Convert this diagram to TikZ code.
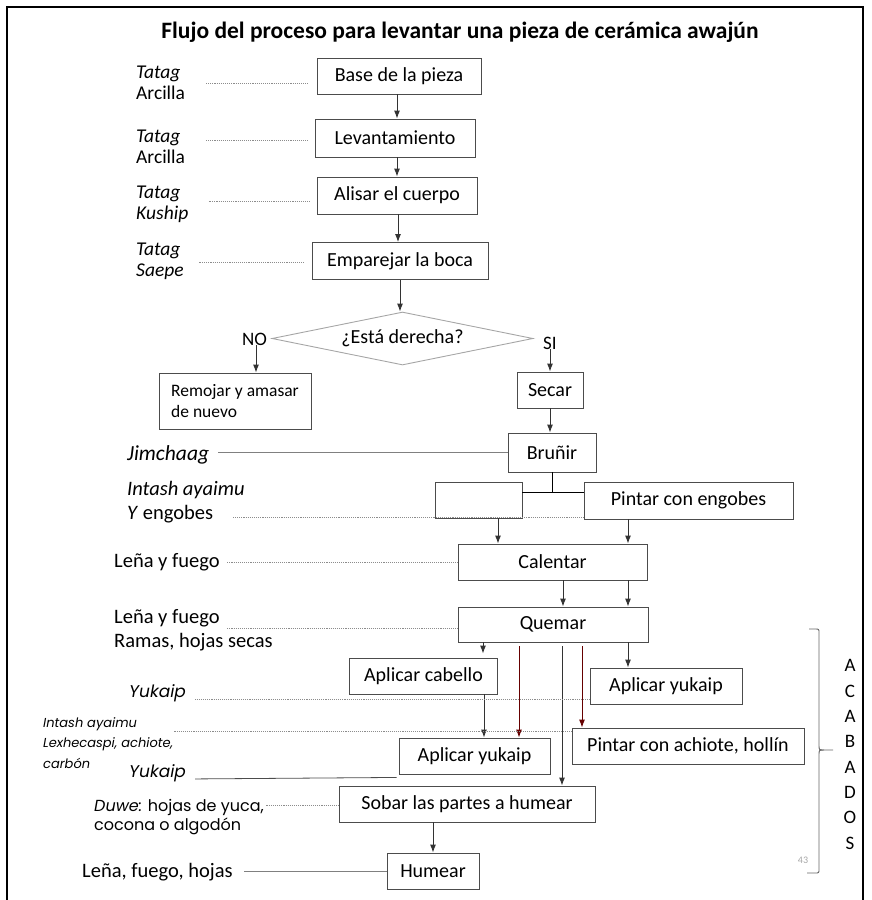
\documentclass[tikz,border=0pt]{standalone}
\usepackage{fontspec}
\setmainfont{Carlito}
\newfontfamily\gotica{Poppins}
\usetikzlibrary{shapes.geometric,arrows.meta}

\begin{document}
\begin{tikzpicture}[x=1pt,y=-1pt]
\tikzstyle{caja}=[draw=black!70,line width=0.9pt,inner sep=0pt,minimum height=36pt,font=\fontsize{20}{23}\selectfont]
\tikzstyle{nota}=[anchor=west,inner sep=0pt,align=left,font=\fontsize{19.5}{21}\selectfont]
\tikzstyle{notag}=[anchor=west,inner sep=0pt,align=left,font=\gotica\itshape\fontsize{17}{20}\selectfont]
\tikzstyle{guia}=[black!45,densely dotted,line width=0.9pt]
\tikzstyle{guiallena}=[black!50,line width=0.8pt]
\tikzstyle{flecha}=[-{Latex[length=8pt,width=6pt]},line width=0.9pt,black!80]
\tikzstyle{flecharoja}=[flecha,red!40!black]

\useasboundingbox (0,0) rectangle (871,900);
\draw[line width=1.4pt] (7,900) -- (7,7) -- (863,7) -- (863,900);

\node[font=\bfseries\fontsize{23.5}{26}\selectfont] (titulo) at (460,32) {Flujo del proceso para levantar una pieza de cerámica awajún};

% pasos
\node[caja,minimum width=164pt] (base) at (399,76) {Base de la pieza};
\node[caja,minimum width=160pt,minimum height=38pt] (lev) at (395,138) {Levantamiento};
\node[caja,minimum width=160pt,minimum height=37pt] (alisar) at (397,195.5) {Alisar el cuerpo};
\node[caja,minimum width=176pt,minimum height=37pt] (emp) at (400,261) {Emparejar la boca};
\node[diamond,aspect=4.9,draw=black!35,line width=0.9pt,inner sep=0pt,minimum width=261pt,minimum height=53pt,
  font=\fontsize{20}{23}\selectfont] (pregunta) at (402.5,338.5) {\raisebox{3pt}{¿Está derecha?}};
\node[font=\fontsize{19}{22}\selectfont,inner sep=0pt] (no) at (254.5,339) {NO};
\node[font=\fontsize{19}{22}\selectfont,inner sep=0pt] (si) at (550,343) {SI};
\node[caja,minimum width=152pt,minimum height=56pt,align=left,font=\fontsize{17.5}{21}\selectfont] (remojar) at (235,401) {Remojar y amasar\\de nuevo};
\node[caja,minimum width=66pt] (secar) at (550,390) {Secar};
\node[caja,minimum width=88pt,minimum height=39pt] (brunir) at (552,452.5) {Bruñir};
\node[caja,minimum width=87pt] (blanco) at (478.5,500) {};
\node[caja,minimum width=209pt,minimum height=37pt] (engobes) at (688.5,500.5) {Pintar con engobes};
\node[caja,minimum width=189pt] (calentar) at (552.5,562) {Calentar};
\node[caja,minimum width=190pt,minimum height=35pt] (quemar) at (553,624.5) {Quemar};
\node[caja,minimum width=148pt] (cabello) at (423.5,676) {Aplicar cabello};
\node[caja,minimum width=152pt] (yukaipA) at (666,686) {Aplicar yukaip};
\node[caja,minimum width=151pt] (yukaipB) at (474.5,756) {Aplicar yukaip};
\node[caja,minimum width=232pt] (achiote) at (688,746) {Pintar con achiote, hollín};
\node[caja,minimum width=256pt] (sobar) at (467,804) {Sobar las partes a humear};
\node[caja,minimum width=92pt] (humear) at (433,871) {Humear};
\coordinate (union) at (552,492);

% materiales
\node[nota] (t1) at (136,82.5) {\textit{Tatag}\\Arcilla};
\node[nota] (t2) at (136,147) {\textit{Tatag}\\Arcilla};
\node[nota] (t3) at (136,204) {\textit{Tatag}\\\textit{Kuship}};
\node[nota] (t4) at (136,261) {\textit{Tatag}\\\textit{Saepe}};
\node[nota,font=\fontsize{21.5}{23}\selectfont] (jim) at (127,455) {\textit{Jimchaag}};
\node[nota,font=\fontsize{20.5}{23}\selectfont] (intash) at (127,490) {\textit{Intash ayaimu}};
\node[nota,font=\fontsize{20.5}{23}\selectfont] (yeng) at (127,514) {\textit{Y} engobes};
\node[nota,font=\fontsize{20.5}{22}\selectfont] (lenaA) at (114,562) {Leña y fuego};
\node[nota,font=\fontsize{20.5}{22}\selectfont] (lenaB) at (114,618) {Leña y fuego};
\node[nota,font=\fontsize{20.5}{22}\selectfont] (ramas) at (114,642) {Ramas, hojas secas};
\node[notag] (yukA) at (129,693) {Yukaip};
\node[notag,font=\gotica\itshape\fontsize{13}{20.5}\selectfont] (lexhe) at (43,743) {Intash ayaimu\\Lexhecaspi, achiote,\\carbón};
\node[notag] (yukB) at (129,773) {Yukaip};
\node[notag,font=\gotica\fontsize{16}{18}\selectfont] (duwe) at (94,807) {\textit{Duwe:} hojas de yuca,};
\node[notag,font=\gotica\fontsize{16}{18}\selectfont] (cocona) at (94,826) {cocona o algodón};
\node[nota,font=\fontsize{20.5}{22}\selectfont] (lenaC) at (82,872) {Leña, fuego, hojas};

% flechas
\draw[flecha] (base.south -| 397,0) -- (lev.north -| 397,0);
\draw[flecha] (lev.south -| 397,0) -- (alisar.north -| 397,0);
\draw[flecha] (alisar.south -| 398,0) -- (emp.north -| 398,0);
\draw[flecha] (emp.south -| 400,0) -- (pregunta.north -| 400,0);
\draw[flecha] (no.south -| 256,0) -- (remojar.north -| 256,0);
\draw[flecha] (si.south) -- (secar.north);
\draw[flecha] (secar.south) -- (brunir.north -| secar.south);
\draw (brunir.south -| union) -- (union);
\draw (blanco.east |- union) -- (engobes.west |- union);
\draw[flecha] (blanco.south -| 498,0) -- (calentar.north -| 498,0);
\draw[flecha] (engobes.south -| 628,0) -- (calentar.north -| 628,0);
\draw[flecha] (calentar.south -| 563,0) -- (quemar.north -| 563,0);
\draw[flecha] (calentar.south -| 628,0) -- (quemar.north -| 628,0);
\draw[flecha,shorten >=4pt] (quemar.south -| 483,0) -- (cabello.north -| 483,0);
\draw[flecharoja,shorten <=4pt] (quemar.south -| 519,0) -- (yukaipB.north -| 519,0);
\draw[flecha,shorten <=4pt] (quemar.south -| 562,0) -- (sobar.north -| 562,0);
\draw[flecharoja,shorten <=4pt] (quemar.south -| 582,0) -- (achiote.north -| 582,0);
\draw[flecha] (quemar.south -| 628,0) -- (yukaipA.north -| 628,0);
\draw[flecha] (cabello.south -| 484,0) -- (yukaipB.north -| 484,0);
\draw[flecha] (sobar.south -| 433,0) -- (humear.north -| 433,0);

% lineas de materiales
\draw[guia,shorten <=9pt,shorten >=20pt] ([yshift=-7pt]base.west) -- ([yshift=-7pt]base.west -| t1.east);
\draw[guia,shorten <=7pt,shorten >=20pt] ([yshift=-2pt]lev.west) -- ([yshift=-2pt]lev.west -| t2.east);
\draw[guia,shorten <=7pt,shorten >=20pt] ([yshift=-6pt]alisar.west) -- ([yshift=-6pt]alisar.west -| t3.east);
\draw[guia,shorten <=8pt,shorten >=15pt] ([yshift=-1pt]emp.west) -- ([yshift=-1pt]emp.west -| t4.east);
\draw[guiallena,shorten >=9pt] (brunir.west) -- (brunir.west -| jim.east);
\draw[guia,shorten >=20pt] ([yshift=2pt]engobes.south west) -- ([yshift=2pt]engobes.south west -| yeng.east);
\draw[guia,shorten >=7pt] (calentar.west) -- (calentar.west -| lenaA.east);
\draw[guia,shorten >=7pt] ([yshift=-4pt]quemar.west) -- ([yshift=-4pt]quemar.west -| lenaB.east);
\draw[guia,shorten >=9pt] ([yshift=5pt]yukaipA.south west) -- ([yshift=5pt]yukaipA.south west -| yukA.east);
\draw[guia] ([yshift=-4pt]achiote.north west) -- ([yshift=-4pt]achiote.north west -| lexhe.east);
\draw[guiallena,black!70,shorten >=9pt] ([xshift=-2pt,yshift=-3pt]yukaipB.south west) -- ([yshift=-6pt]yukB.east);
\draw[guia,shorten >=2pt] ([yshift=-1pt]sobar.west) -- ([yshift=-1pt]sobar.west -| duwe.east);
\draw[guiallena,shorten >=11pt] (humear.west) -- (humear.west -| lenaC.east);

% acabados
\draw[black!60,line width=0.9pt] (809,629) -- (815,629) .. controls (819,629) .. (819,633) -- (819,745)
  .. controls (819,750) .. (824,750) -- (833,750);
\draw[black!60,line width=0.9pt] (824,750) .. controls (819,750) .. (819,755) -- (819,869)
  .. controls (819,873) .. (815,873) -- (807,873);
\node[align=center,font=\fontsize{19}{25.3}\selectfont] (acabados) at (850,754.5) {A\\C\\A\\B\\A\\D\\O\\S};
\node[font=\fontsize{10}{12}\selectfont,text=black!35] (pagina) at (803,860) {43};
\end{tikzpicture}
\end{document}
